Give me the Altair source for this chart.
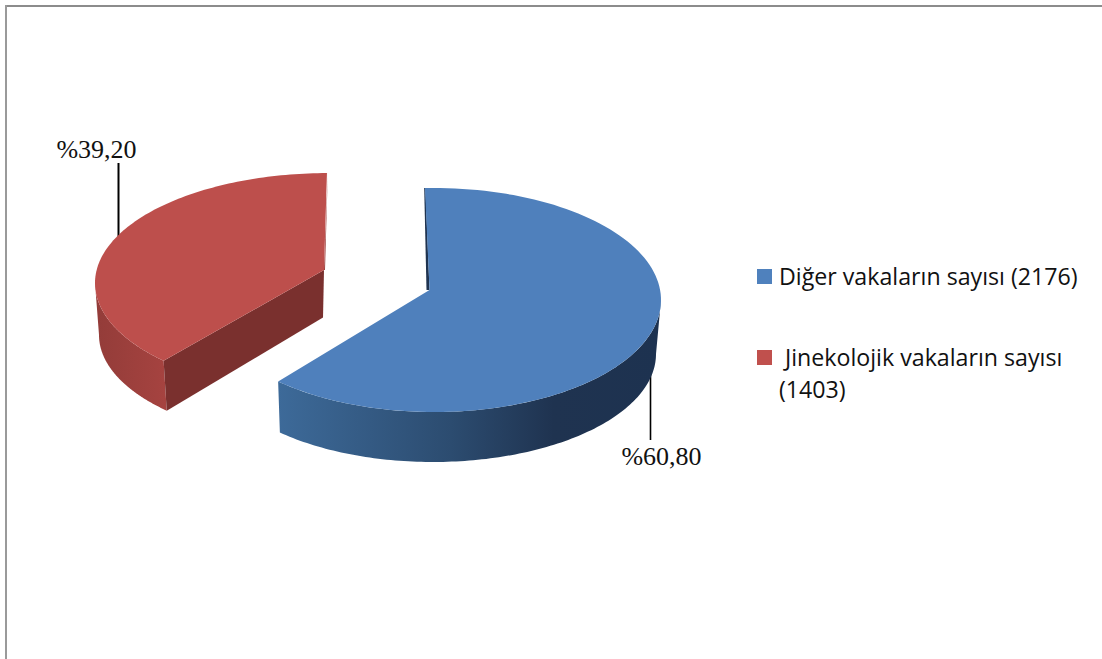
import numpy as np
import altair as alt

# Case counts and their legend text
categories = ["Diğer", "Jinekolojik"]
case_counts = [2176, 1403]
legend_lines = ["Diğer vakaların sayısı (2176)", "Jinekolojik vakaların sayısı", "(1403)"]

total = sum(case_counts)
shares = [c / total for c in case_counts]
labels = ["%" + f"{s * 100:.2f}".replace(".", ",") for s in shares]

FIRST_ANGLE = -91.25  # where the first slice starts, degrees clockwise from +x
STRETCH = 1.0074      # the tilted view opens the front slice a little
RED_TWIST = 0.45      # the exploded slice turns slightly under the perspective

sweep_blue = shares[0] * 360 * STRETCH
sweep_red = shares[1] * 360


def rim_param(angle, apex, top):
    """Cast a ray from the slice's apex to its rim; returns the ellipse parameter."""
    cx, cy, a, b = top
    u0, v0 = (apex[0] - cx) / a, (apex[1] - cy) / b
    dx, dy = np.cos(np.radians(angle)), np.sin(np.radians(angle))
    pd = u0 * dx + v0 * dy
    s = -pd + np.sqrt(pd * pd + 1 - u0 * u0 - v0 * v0)
    return np.arctan2(v0 + s * dy, u0 + s * dx)


def arc(ell, t0, t1, n=120):
    cx, cy, a, b = ell
    t = np.linspace(t0, t1, n)
    return np.column_stack([cx + a * np.cos(t), cy + b * np.sin(t)]).tolist()


def polygon(points):
    pts = [list(p) for p in points]
    pts.append(pts[0])
    return alt.Data(values=[{"type": "Feature", "properties": {},
                             "geometry": {"type": "Polygon", "coordinates": [pts]}}])


def h_gradient(stops):
    return alt.LinearGradient(
        gradient="linear", x1=0, x2=1, y1=0, y2=0,
        stops=[alt.GradientStop(offset=o, color=c) for o, c in stops],
    )


def face(points, fill):
    return alt.Chart(polygon(points)).mark_geoshape(
        fill=fill, strokeWidth=0, stroke="transparent"
    ).project(type="identity", scale=1, translate=[0, 0])


# Slice geometry: top rim and slightly narrower bottom rim of each slice
blue_apex = (429.5, 290.0)
blue_top = (434.0, 300.0, 227.0, 112.0)
blue_bottom = (433.0, 354.0, 223.0, 108.0)
blue_t0 = rim_param(FIRST_ANGLE, blue_apex, blue_top)
blue_t1 = rim_param(FIRST_ANGLE + sweep_blue, blue_apex, blue_top)

red_apex = (324.0, 270.0)
red_apex_low = (323.0, 317.5)
red_top = (329.0, 283.0, 234.0, 110.0)
red_bottom = (330.0, 335.0, 231.0, 107.0)
red_start = FIRST_ANGLE + sweep_blue + RED_TWIST
red_t0 = rim_param(red_start, red_apex, red_top)
red_t1 = rim_param(red_start + sweep_red, red_apex, red_top) + 2 * np.pi

# Blue slice
blue_side = face(
    arc(blue_top, 0.0, blue_t1) + arc(blue_bottom, blue_t1, 0.0),
    h_gradient([(0, "#3d6a99"), (0.45, "#2c4c70"), (0.72, "#1f3350"), (1, "#1d3250")]),
)
start_x, start_y = arc(blue_top, blue_t0, blue_t0, 1)[0]
blue_wall = face(
    [(start_x - 0.8, start_y), (start_x + 0.4, start_y), blue_apex,
     (blue_apex[0] - 3.0, blue_apex[1])],
    "#1f3350",
)
blue_face = face([blue_apex] + arc(blue_top, blue_t0, blue_t1), "#4f80bc")

# Red slice
red_side = face(
    arc(red_top, red_t0, np.pi) + arc(red_bottom, np.pi, red_t0),
    h_gradient([(0, "#933c39"), (1, "#a64340")]),
)
low_x, low_y = arc(red_bottom, red_t0, red_t0, 1)[0]
rim_x, rim_y = arc(red_top, red_t0, red_t0, 1)[0]
red_wall = face([red_apex, red_apex_low, (low_x, low_y), (rim_x, rim_y)], "#7a302e")
end_x, end_y = arc(red_top, red_t1, red_t1, 1)[0]
red_wall_edge = face([(end_x + 0.8, end_y), (red_apex[0] + 1.0, red_apex[1]), red_apex], "#9c3f3c")
red_face = face([red_apex] + arc(red_top, red_t0, red_t1), "#bd4f4c")


def rule(x, y, y2, width=2, color="black"):
    return alt.Chart(alt.Data(values=[{}])).mark_rule(
        color=color, strokeWidth=width
    ).encode(x=alt.value(x), y=alt.value(y), y2=alt.value(y2))


def text(string, x, y, size, font, align="left"):
    return alt.Chart(alt.Data(values=[{"t": string}])).mark_text(
        align=align, baseline="alphabetic", font=font, fontSize=size, color="#111111"
    ).encode(x=alt.value(x), y=alt.value(y), text="t:N")


def swatch(x, x2, y, y2, color):
    return alt.Chart(alt.Data(values=[{}])).mark_rect(color=color).encode(
        x=alt.value(x), x2=alt.value(x2), y=alt.value(y), y2=alt.value(y2)
    )


# Frame along the top and left edges
frame_top = alt.Chart(alt.Data(values=[{}])).mark_rule(color="#8c8c8c", strokeWidth=2).encode(
    x=alt.value(5), x2=alt.value(1102), y=alt.value(6)
)
frame_left = rule(6, 5, 659, width=2, color="#9a9a9a")

chart = alt.layer(
    frame_top,
    frame_left,
    rule(118.5, 163, 238),
    rule(650.5, 372, 440, width=1.6),
    red_side,
    red_wall,
    red_wall_edge,
    red_face,
    blue_side,
    blue_wall,
    blue_face,
    text(labels[1], 96.5, 158, 26, "Liberation Serif", "center"),
    text(labels[0], 661.5, 465, 26, "Liberation Serif", "center"),
    swatch(757, 772, 269, 284, "#4f81bd"),
    swatch(757, 772, 350, 365, "#c0504d"),
    text(legend_lines[0], 779, 285, 23.2, "Open Sans"),
    text(legend_lines[1], 785, 366, 23.2, "Open Sans"),
    text(legend_lines[2], 779, 398, 23.2, "Open Sans"),
).properties(
    width=1102, height=659, padding=0,
    autosize=alt.AutoSizeParams(type="none"),
    background="white",
).configure_view(strokeWidth=0)

chart.save("out.html", embed_options={"renderer": "svg", "actions": False})
